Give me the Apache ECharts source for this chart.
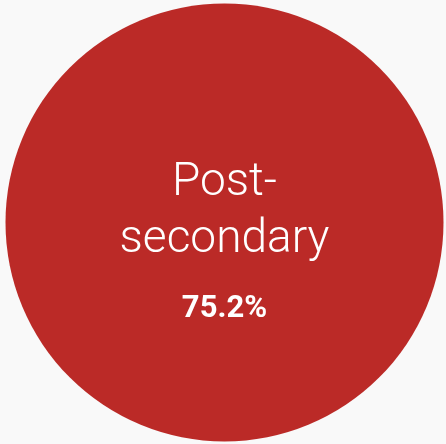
<!DOCTYPE html>
<html>
<head>
<meta charset="utf-8">
<script src="https://cdn.jsdelivr.net/npm/echarts@6/dist/echarts.min.js"></script>
<style>
  html, body { margin: 0; padding: 0; background: #f9f9f9; }
  #chart { width: 446px; height: 444px; }
</style>
</head>
<body>
<div id="chart"></div>
<script>
var categories = ['Post-\nsecondary'];
var values = [75.2];
var colors = ['#bb2a27'];

var chart = echarts.init(document.getElementById('chart'));
var option = {
  backgroundColor: '#f9f9f9',
  animation: false,
  series: [{
    type: 'pie',
    center: [224.5, 222.5],
    radius: [0, 219],
    silent: true,
    data: categories.map(function (name, i) {
      return { name: name, value: values[i], itemStyle: { color: colors[i] } };
    }),
    label: {
      show: true,
      position: 'center',
      offset: [0, 17],
      formatter: function (p) {
        return '{name|' + p.name.split('\n').join('}\n{name|') + '}\n{pct|' + p.value.toFixed(1) + '%}';
      },
      rich: {
        name: { fontFamily: 'Roboto', fontWeight: 300, fontSize: 46, lineHeight: 57, color: '#fff' },
        pct: { fontFamily: 'Roboto', fontWeight: 'bold', fontSize: 31, lineHeight: 56, color: '#fff', verticalAlign: 'bottom' }
      }
    },
    labelLine: { show: false }
  }]
};
chart.setOption(option);
</script>
</body>
</html>
